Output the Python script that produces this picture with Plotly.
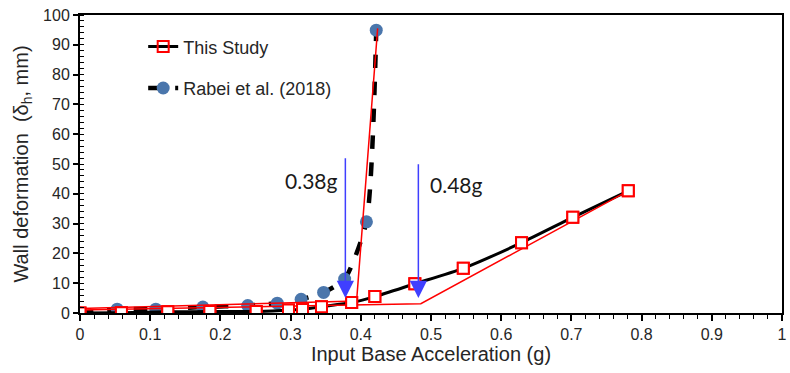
import plotly.graph_objects as go

# ---- data ----
study_x = [0, 0.059, 0.125, 0.185, 0.251, 0.297, 0.317, 0.344, 0.387, 0.420, 0.477, 0.546, 0.629, 0.702, 0.781]
study_y = [0, 0.1, 0.4, 0.5, 0.5, 1.0, 1.2, 2.1, 3.5, 5.5, 9.8, 15.0, 23.6, 32.1, 41.0]

rabei_x = [0, 0.053, 0.108, 0.175, 0.239, 0.281, 0.315, 0.347, 0.377, 0.408, 0.422]
rabei_y = [0, 1.3, 1.3, 2.0, 2.5, 3.3, 4.6, 6.9, 11.4, 30.6, 94.9]

fitA_x = [0, 0.394, 0.424]
fitA_y = [1.5, 4.0, 95.5]
fitB_x = [0, 0.4855, 0.781]
fitB_y = [1.0, 3.1, 41.0]

arrow_x = [0.378, 0.482]
arrow_top = [52.4, 50.4]
arrow_tip = [5.0, 5.0]
label_text = ["0.38g", "0.48g"]
label_x = [0.3296, 0.535]
label_y = [44.5, 43.2]

x_ticks = [0, 0.1, 0.2, 0.3, 0.4, 0.5, 0.6, 0.7, 0.8, 0.9, 1]
x_ticktext = ["0", "0.1", "0.2", "0.3", "0.4", "0.5", "0.6", "0.7", "0.8", "0.9", "1"]
y_ticks = list(range(0, 101, 10))

RED = "#FF0000"
BLUE_DOT = "#4A76AC"
ARROW = "#3F3FFF"

fig = go.Figure()

# Rabei et al. dashed line with blue circles
fig.add_trace(go.Scatter(
    x=rabei_x, y=rabei_y, mode="lines+markers", name="Rabei et al. (2018)",
    line=dict(color="black", width=4.5, dash="dash", shape="spline", smoothing=0.6),
    marker=dict(symbol="circle", size=13, color=BLUE_DOT),
    legendgroup="b", legendrank=2,
))

# This Study line (legend entry)
fig.add_trace(go.Scatter(
    x=study_x, y=study_y, mode="lines+markers", name="This Study",
    line=dict(color="black", width=3, shape="spline", smoothing=0.6),
    marker=dict(symbol="square-open", size=11, color=RED, line=dict(width=2, color=RED)),
    legendgroup="a", legendrank=1,
))

# red bilinear fits
fig.add_trace(go.Scatter(x=fitA_x, y=fitA_y, mode="lines", showlegend=False,
                         line=dict(color=RED, width=1.5), hoverinfo="skip"))
fig.add_trace(go.Scatter(x=fitB_x, y=fitB_y, mode="lines", showlegend=False,
                         line=dict(color=RED, width=1.5), hoverinfo="skip"))

# squares on top
fig.add_trace(go.Scatter(
    x=study_x, y=study_y, mode="markers", showlegend=False,
    marker=dict(symbol="square", size=11, color="white", line=dict(width=2, color=RED)),
))

annotations = []
for xa, yt, yb in zip(arrow_x, arrow_top, arrow_tip):
    annotations.append(dict(
        x=xa, y=yb, ax=xa, ay=yt, xref="x", yref="y", axref="x", ayref="y",
        text="", showarrow=True, arrowhead=2, arrowsize=2.3, arrowwidth=1.5,
        arrowcolor=ARROW, standoff=0,
    ))
for t, xl, yl in zip(label_text, label_x, label_y):
    annotations.append(dict(
        x=xl, y=yl, xref="x", yref="y", text=t, showarrow=False,
        font=dict(family="Lato", size=21, color="#1a1a1a"),
    ))

fig.update_layout(
    width=790, height=373,
    margin=dict(l=80, r=3, t=15, b=60),
    paper_bgcolor="white", plot_bgcolor="white",
    font=dict(family="Liberation Sans, Arial", size=16, color="#262626"),
    showlegend=True,
    legend=dict(
        x=0.09, y=0.955, xanchor="left", yanchor="top",
        font=dict(size=18, color="#262626"),
        bgcolor="rgba(0,0,0,0)", tracegroupgap=15,
        traceorder="grouped",
    ),
    annotations=annotations,
)

fig.update_xaxes(
    range=[0, 1], tickvals=x_ticks, ticktext=x_ticktext,
    showline=True, linecolor="black", linewidth=2, mirror=True,
    ticks="outside", ticklen=6, tickwidth=1.5, tickcolor="black",
    minor=dict(dtick=0.02, ticks="outside", ticklen=4, tickcolor="black", tickwidth=1),
    showgrid=False, zeroline=False,
    title=dict(text="Input Base Acceleration (g)", font=dict(size=20), standoff=4),
)
fig.update_yaxes(
    range=[0, 100], tickvals=y_ticks,
    showline=True, linecolor="black", linewidth=2, mirror=True,
    ticks="outside", ticklen=5, tickwidth=1.5, tickcolor="black",
    minor=dict(dtick=2, ticks="inside", ticklen=4, tickcolor="black", tickwidth=1),
    showgrid=False, zeroline=False,
    title=dict(text="Wall deformation  (δ<sub>h</sub>, mm)", font=dict(size=20), standoff=9),
)

fig.write_html("out.html")
